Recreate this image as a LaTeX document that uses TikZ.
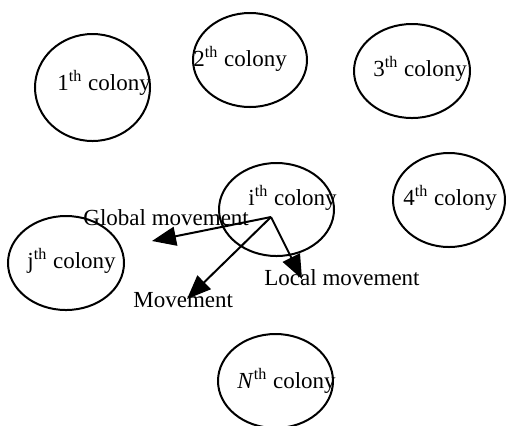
\documentclass[tikz,border=0pt]{standalone}
\usepackage{fontspec}
\setmainfont{Liberation Serif}
\usetikzlibrary{shapes.geometric,arrows.meta}
\begin{document}
\begin{tikzpicture}[x=0.5pt,y=-0.5pt,
  colony/.style={draw,ellipse,line width=1pt,inner sep=0pt},
  lbl/.style={anchor=base west,inner sep=0pt,font=\fontsize{11.5}{13}\selectfont},
  mv/.style={line width=1pt,-{Triangle[length=12pt,width=9.5pt]}}]
\useasboundingbox (0,0) rectangle (507,425);
% colonies
\node[colony,minimum width=57.5pt,minimum height=53.5pt] (c1) at (92.5,87.5) {};
\node[colony,minimum width=57pt,minimum height=47pt] (c2) at (250,60) {};
\node[colony,minimum width=58pt,minimum height=47pt] (c3) at (412,71) {};
\node[colony,minimum width=56pt,minimum height=47pt] (c4) at (449,200) {};
\node[colony,minimum width=57.5pt,minimum height=46.5pt] (ci) at (276.5,209.5) {};
\node[colony,minimum width=58pt,minimum height=47pt] (cj) at (66,263) {};
\node[colony,minimum width=57.5pt,minimum height=47pt] (cN) at (275.5,381) {};
% labels
\node[lbl] (t1) at (57,90) {1\textsuperscript{th} colony};
\node[lbl] (t2) at (193,66) {2\textsuperscript{th} colony};
\node[lbl] (t3) at (373,76) {3\textsuperscript{th} colony};
\node[lbl] (t4) at (403,205) {4\textsuperscript{th} colony};
\node[lbl] (ti) at (248,205) {i\textsuperscript{th} colony};
\node[lbl] (tj) at (27,268) {j\textsuperscript{th} colony};
\node[lbl] (tN) at (237,388) {\textit{N}\textsuperscript{th} colony};
\node[lbl] (gm) at (83,225) {Global movement};
\node[lbl] (lm) at (264,285) {Local movement};
\node[lbl] (mm) at (133,307) {Movement};
% movements
\coordinate (o) at (271,217);
\coordinate (g) at (152,241);
\coordinate (m) at (187,299);
\coordinate (l) at (302,279);
\draw[mv] (o) -- (g);
\draw[mv] (o) -- (m);
\draw[mv] (o) -- (l);
\end{tikzpicture}
\end{document}
